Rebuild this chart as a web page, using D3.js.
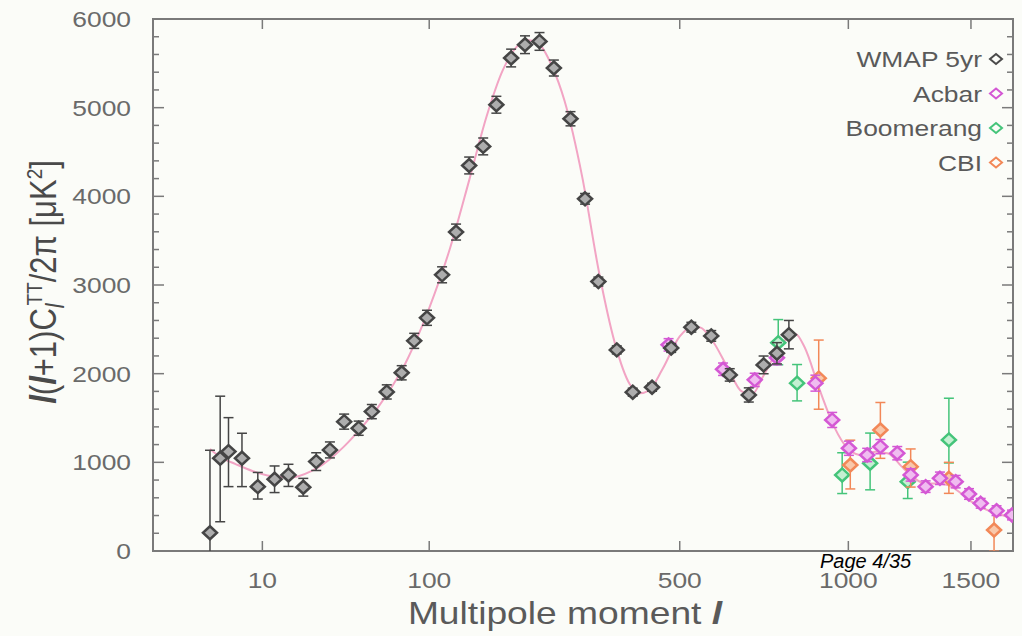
<!DOCTYPE html>
<html>
<head>
<meta charset="utf-8">
<script src="https://cdn.jsdelivr.net/npm/d3@7"></script>
<style>
  html, body { margin: 0; padding: 0; background: #fbfcf8; }
  svg { display: block; }
  text { font-family: "Liberation Sans", Arial, Helvetica, sans-serif; }
</style>
</head>
<body>
<svg id="chart" width="1022" height="636"></svg>
<script>
// ---- data -------------------------------------------------------------
// WMAP 5-year binned TT spectrum: multipole, band power, lower / upper error
const wmapEll  = [2, 3, 4, 6, 9, 13, 17, 22, 27, 33, 40, 48, 56, 66, 77, 87, 98, 112, 126, 140, 156, 172, 191, 210, 231, 253, 280, 305, 329, 364, 396, 437, 480, 528, 578, 627, 680, 723, 763, 800];
const wmapVal  = [206, 1046, 1121, 1046, 726, 809, 858, 719, 1008, 1140, 1459, 1385, 1572, 1794, 2010, 2370, 2630, 3115, 3597, 4348, 4563, 5033, 5560, 5710, 5747, 5447, 4875, 3972, 3039, 2268, 1791, 1847, 2290, 2524, 2426, 1986, 1760, 2099, 2230, 2440];
const wmapLo   = [700, 716, 395, 320, 140, 150, 130, 100, 100, 90, 85, 80, 80, 80, 80, 85, 85, 90, 90, 95, 95, 95, 100, 100, 100, 90, 80, 60, 50, 45, 45, 45, 50, 55, 60, 70, 80, 100, 120, 160];
const wmapHi   = [930, 700, 383, 282, 160, 150, 120, 100, 100, 90, 85, 80, 80, 80, 80, 85, 85, 90, 90, 95, 95, 95, 100, 100, 100, 90, 80, 60, 50, 45, 45, 45, 50, 55, 60, 70, 80, 100, 120, 160];

// ACBAR
const acbarEll = [474, 609, 697, 763, 886, 943, 1002, 1069, 1119, 1185, 1239, 1301, 1362, 1431, 1491, 1545, 1620, 1695];
const acbarVal = [2325, 2050, 1930, 2180, 1893, 1478, 1159, 1083, 1177, 1103, 858, 726, 820, 782, 643, 538, 455, 406];
const acbarErr = [70, 70, 75, 80, 90, 85, 80, 75, 80, 75, 70, 65, 70, 70, 60, 55, 55, 55];

// BOOMERANG
const boomEll  = [767, 826, 978, 1080, 1227, 1401];
const boomVal  = [2350, 1893, 858, 990, 782, 1253];
const boomLo   = [250, 200, 210, 300, 190, 260];
const boomHi   = [260, 210, 250, 340, 220, 470];

// CBI
const cbiEll   = [897, 1007, 1119, 1239, 1401, 1608];
const cbiVal   = [1949, 970, 1365, 951, 820, 237];
const cbiLo    = [350, 270, 320, 230, 170, 240];
const cbiHi    = [430, 280, 310, 200, 180, 220];

// best-fit model curve
const modelEll = [2, 3, 5, 8, 12, 18, 25, 30, 40, 50, 60, 70, 80, 90, 100, 120, 140, 160, 180, 200, 215, 230, 250, 270, 300, 330, 360, 390, 410, 430, 460, 500, 530, 550, 580, 620, 660, 690, 720, 760, 800, 820, 850, 900, 950, 1000, 1050, 1100, 1150, 1200, 1250, 1300, 1350, 1400, 1450, 1500, 1550, 1600, 1700];
const modelVal = [1150, 1060, 980, 900, 845, 830, 900, 980, 1180, 1400, 1620, 1860, 2120, 2420, 2740, 3420, 4180, 4900, 5420, 5700, 5760, 5720, 5470, 5080, 4220, 3150, 2350, 1880, 1780, 1810, 2050, 2420, 2530, 2520, 2380, 2080, 1800, 1770, 1960, 2230, 2420, 2450, 2300, 1820, 1400, 1150, 1080, 1120, 1100, 960, 830, 760, 760, 740, 660, 560, 490, 440, 370];

const xTicks = [10, 100, 500, 1000, 1500];
const yTicks = [0, 1000, 2000, 3000, 4000, 5000, 6000];

const legendNames = ["WMAP 5yr", "Acbar", "Boomerang", "CBI"];

// ---- scales -----------------------------------------------------------
const svg = d3.select("#chart");
const plotLeft = 153, plotRight = 1013, plotTop = 19, plotBottom = 551;
const stretch = 1.2;   // horizontal glyph stretch of the lettering

const x = d3.scalePow().exponent(0.4).domain([0, 1700]).range([152, 1013]);
const y = d3.scaleLinear().domain([0, 6000]).range([plotBottom, plotTop]);

const frame = "#7a7a7a";
const labelColor = "#6a6a6a";

svg.append("rect").attr("width", 1022).attr("height", 636).attr("fill", "#fbfcf8");

svg.append("defs").append("clipPath").attr("id", "plotclip")
  .append("rect").attr("x", plotLeft).attr("y", plotTop)
  .attr("width", plotRight - plotLeft).attr("height", plotBottom - plotTop);

// ---- axes -------------------------------------------------------------
const axes = svg.append("g");

// minor / major ticks on the left and right edges
const yMinor = d3.range(0, 6001, 200);
yMinor.forEach(v => {
  const major = v % 1000 === 0;
  const len = major ? 11 : 6;
  axes.append("line").attr("x1", plotLeft).attr("x2", plotLeft + len).attr("y1", y(v)).attr("y2", y(v))
    .attr("stroke", frame).attr("stroke-width", 1.5);
  axes.append("line").attr("x1", plotRight).attr("x2", plotRight - len).attr("y1", y(v)).attr("y2", y(v))
    .attr("stroke", frame).attr("stroke-width", 1.5);
});
xTicks.forEach(t => {
  axes.append("line").attr("x1", x(t)).attr("x2", x(t)).attr("y1", plotBottom).attr("y2", plotBottom - 10)
    .attr("stroke", frame).attr("stroke-width", 1.5);
  axes.append("line").attr("x1", x(t)).attr("x2", x(t)).attr("y1", plotTop).attr("y2", plotTop + 10)
    .attr("stroke", frame).attr("stroke-width", 1.5);
});
axes.append("rect").attr("x", plotLeft).attr("y", plotTop)
  .attr("width", plotRight - plotLeft).attr("height", plotBottom - plotTop)
  .attr("fill", "none").attr("stroke", frame).attr("stroke-width", 2);

// tick labels
yTicks.forEach(v => {
  axes.append("text")
    .attr("transform", `translate(131,${y(v) + 8}) scale(${stretch},1)`)
    .attr("text-anchor", "end").attr("font-size", 22).attr("fill", labelColor)
    .text(v);
});
xTicks.forEach(t => {
  axes.append("text")
    .attr("transform", `translate(${x(t)},588) scale(${stretch},1)`)
    .attr("text-anchor", "middle").attr("font-size", 22).attr("fill", labelColor)
    .text(t);
});

// axis titles
const xt = axes.append("text")
  .attr("transform", `translate(565,624) scale(${stretch},1)`)
  .attr("text-anchor", "middle").attr("font-size", 31).attr("fill", "#5a5a5a");
xt.append("tspan").text("Multipole moment  ");
xt.append("tspan").attr("font-style", "italic").attr("font-weight", "bold").text("l");

const yt = axes.append("text")
  .attr("transform", `translate(56,282) scale(${stretch},1) rotate(-90)`)
  .attr("text-anchor", "middle").attr("font-size", 31).attr("fill", "#4a4a4a");
yt.append("tspan").attr("font-style", "italic").attr("font-weight", "bold").text("l");
yt.append("tspan").text("(");
yt.append("tspan").attr("font-style", "italic").attr("font-weight", "bold").text("l");
yt.append("tspan").text("+1)C");
yt.append("tspan").attr("font-style", "italic").attr("font-size", 21).attr("dy", 7).text("l");
yt.append("tspan").attr("font-size", 19).attr("dy", -19).attr("dx", -2).text("TT");
yt.append("tspan").attr("dy", 12).text("/2π [μK");
yt.append("tspan").attr("font-size", 19).attr("dy", -12).text("2");
yt.append("tspan").attr("dy", 12).text("]");

// ---- marks ------------------------------------------------------------
const plot = svg.append("g").attr("clip-path", "url(#plotclip)");

const model = d3.line().x((d, i) => x(modelEll[i])).y((d, i) => y(modelVal[i])).curve(d3.curveMonotoneX);
plot.append("path").datum(modelVal).attr("d", model)
  .attr("fill", "none").attr("stroke", "#f2a4c4").attr("stroke-width", 2);

const diamond = "M0,-6.5L7,0L0,6.5L-7,0Z";

function drawSeries(ell, val, lo, hi, stroke, fill) {
  const g = plot.append("g");
  const rows = ell.map((l, i) => ({ l, v: val[i], lo: lo[i], hi: hi[i] }));
  rows.forEach(d => {
    const cx = x(d.l), y1 = y(d.v - d.lo), y2 = y(d.v + d.hi);
    g.append("line").attr("x1", cx).attr("x2", cx).attr("y1", y1).attr("y2", y2)
      .attr("stroke", stroke).attr("stroke-width", 1.5);
    [y1, y2].forEach(yy => g.append("line").attr("x1", cx - 5).attr("x2", cx + 5)
      .attr("y1", yy).attr("y2", yy).attr("stroke", stroke).attr("stroke-width", 1.5));
  });
  g.selectAll("path.pt").data(rows).join("path").attr("class", "pt")
    .attr("d", diamond)
    .attr("transform", d => `translate(${x(d.l)},${y(d.v)})`)
    .attr("fill", fill).attr("stroke", stroke).attr("stroke-width", 2.5);
}

drawSeries(boomEll, boomVal, boomLo, boomHi, "#44c47a", "#c4f0d2");
drawSeries(cbiEll, cbiVal, cbiLo, cbiHi, "#f28858", "#f9c8aa");
drawSeries(acbarEll, acbarVal, acbarErr, acbarErr, "#d458d4", "#f0bcf0");
drawSeries(wmapEll, wmapVal, wmapLo, wmapHi, "#454545", "#adadad");

// ---- legend -----------------------------------------------------------
const legendStroke = ["#4a4a4a", "#d458d4", "#44c47a", "#f28858"];
const legend = svg.append("g");
legendNames.forEach((name, i) => {
  const yy = 59 + i * 34.5;
  legend.append("text")
    .attr("transform", `translate(982,${yy + 8}) scale(${stretch},1)`)
    .attr("text-anchor", "end").attr("font-size", 22).attr("fill", "#5a5a5a").text(name);
  legend.append("path").attr("d", "M0,-5L6,0L0,5L-6,0Z")
    .attr("transform", `translate(996,${yy})`)
    .attr("fill", "none").attr("stroke", legendStroke[i]).attr("stroke-width", 2);
});

// page marker
svg.append("text").attr("x", 820).attr("y", 568).attr("font-size", 20)
  .attr("font-style", "italic").attr("fill", "#000").text("Page 4/35");
</script>
</body>
</html>
